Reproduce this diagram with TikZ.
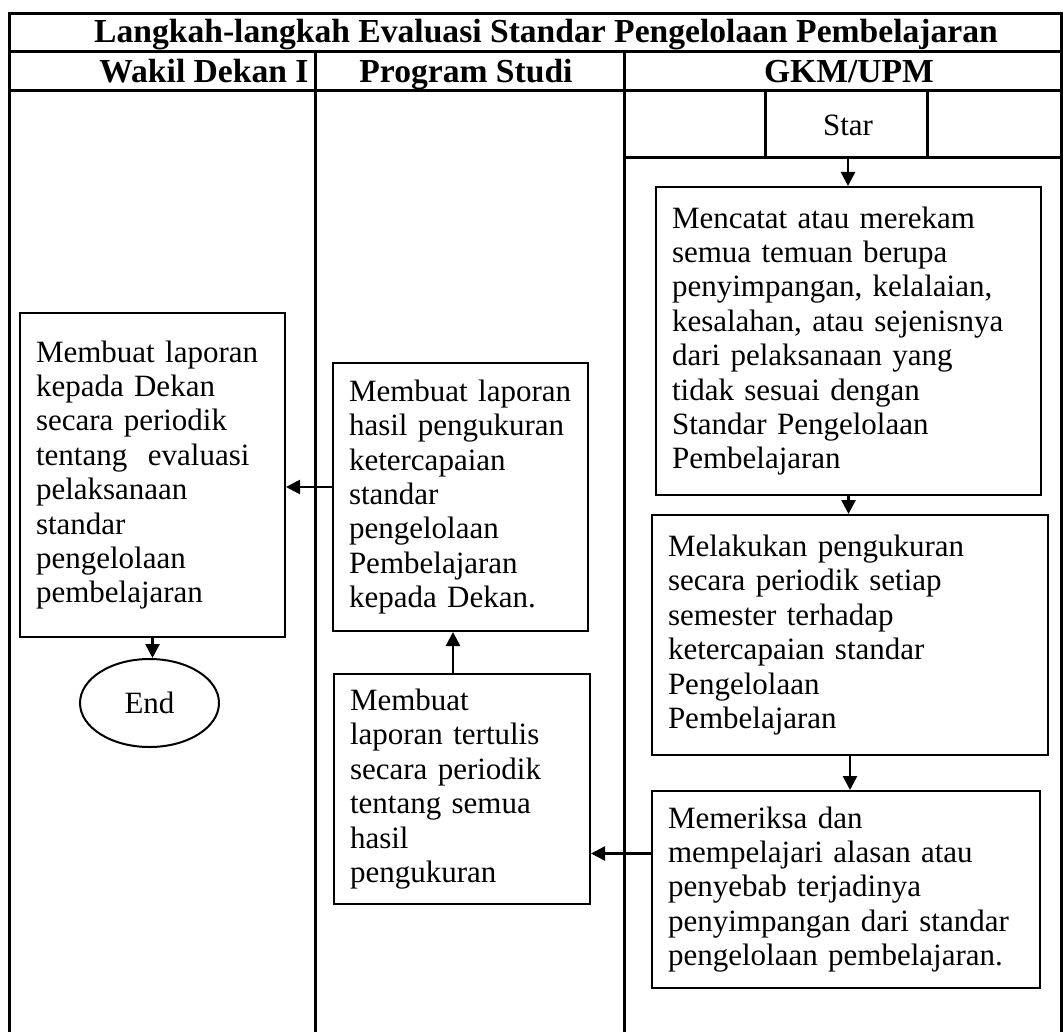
\documentclass[tikz,border=0pt]{standalone}
\usepackage{fontspec}
\setmainfont{Liberation Serif}
\usetikzlibrary{arrows.meta,calc,shapes.geometric}
\newcommand{\bodysize}{\fontsize{15.5}{17.2}\selectfont\hyphenpenalty=10000}
\newcommand{\headsize}{\bfseries\fontsize{16.8}{19}\selectfont}
\tikzset{
    lanerule/.style={line width=1.5pt},
    headtext/.style={font=\headsize,inner sep=0pt,anchor=base},
    celltext/.style={font=\bodysize,inner sep=0pt},
    stepbox/.style={draw,line width=1pt,align=left,font=\bodysize,inner xsep=8pt},
    flowarrow/.style={-{Triangle[length=7pt,width=7pt]},line width=1.3pt},
    endbox/.style={draw,ellipse,line width=1pt,font=\bodysize,inner sep=0pt}
}

\begin{document}
\begin{tikzpicture}[x=0.5pt,y=-0.5pt]
    \useasboundingbox (0,0) rectangle (1063,1032);
    % Table
    \draw[lanerule] (9,1032) -- (9,14) -- (1061,14) -- (1061,1032);
    \draw[lanerule] (9,52) -- (1061,52);
    \draw[lanerule] (9,91) -- (1061,91);
    \draw[lanerule] (315,52) -- (315,1032);
    \draw[lanerule] (624,52) -- (624,1032);
    % Start cell
    \draw[lanerule] (624,158) -- (1061,158);
    \draw[lanerule] (765,91) -- (765,158);
    \draw[lanerule] (927,91) -- (927,158);
    % Headings
    \node[headtext] (title) at (546,43) {Langkah-langkah Evaluasi Standar Pengelolaan Pembelajaran};
    \node[headtext] (wadek) at (204,83) {Wakil Dekan I};
    \node[headtext] (prodi) at (466,83) {Program Studi};
    \node[headtext] (gkm) at (849,83) {GKM/UPM};
    \node[celltext,minimum height=33pt] (star) at (848,125) {Star};
    % GKM/UPM steps
    \node[stepbox,text width=176.5pt,minimum height=154pt] (catat) at (848.5,341)
        {Mencatat atau merekam\\semua temuan berupa\\penyimpangan, kelalaian,\\kesalahan, atau sejenisnya\\dari pelaksanaan yang\\tidak sesuai dengan\\Standar Pengelolaan\\Pembelajaran};
    \node[stepbox,text width=182pt,minimum height=120pt] (ukur) at (850,635)
        {Melakukan pengukuran\\secara periodik setiap\\semester terhadap\\ketercapaian standar\\Pengelolaan\\Pembelajaran};
    \node[stepbox,text width=178pt,minimum height=98.5pt] (periksa) at (846,889.5)
        {Memeriksa dan\\mempelajari alasan atau\\penyebab terjadinya\\penyimpangan dari standar\\pengelolaan pembelajaran.};
    % Program Studi steps
    \node[stepbox,text width=112pt,minimum height=115pt] (tulis) at (462,789)
        {Membuat\\laporan tertulis\\secara periodik\\tentang semua\\hasil\\pengukuran};
    \node[stepbox,text width=111.5pt,minimum height=134pt] (hasil) at (460.5,497)
        {Membuat laporan\\hasil pengukuran\\ketercapaian\\standar\\pengelolaan\\Pembelajaran\\kepada Dekan.};
    % Wakil Dekan I steps
    \node[stepbox,text width=116.5pt,minimum height=162pt] (lapor) at (152.5,475)
        {Membuat laporan\\kepada Dekan\\secara periodik\\tentang\ \ evaluasi\\pelaksanaan\\standar\\pengelolaan\\pembelajaran};
    \node[endbox,minimum width=69.5pt,minimum height=44pt] (end) at (149.5,703) {End};
    % Arrows
    \draw[flowarrow] (star.south) -- (star.south |- catat.north);
    \draw[flowarrow] (catat.south) -- (catat.south |- ukur.north);
    \draw[flowarrow] (ukur.south) -- (ukur.south |- periksa.north);
    \draw[flowarrow] ([yshift=18pt]periksa.west) -- ([yshift=18pt]periksa.west -| tulis.east);
    \draw[flowarrow] ([xshift=-4.5pt]tulis.north) -- ([xshift=-4.5pt]tulis.north |- hasil.south);
    \draw[flowarrow] ([yshift=5pt]hasil.west) -- ([yshift=5pt]hasil.west -| lapor.east);
    \draw[flowarrow] (lapor.south) -- (lapor.south |- end.north);
\end{tikzpicture}
\end{document}
